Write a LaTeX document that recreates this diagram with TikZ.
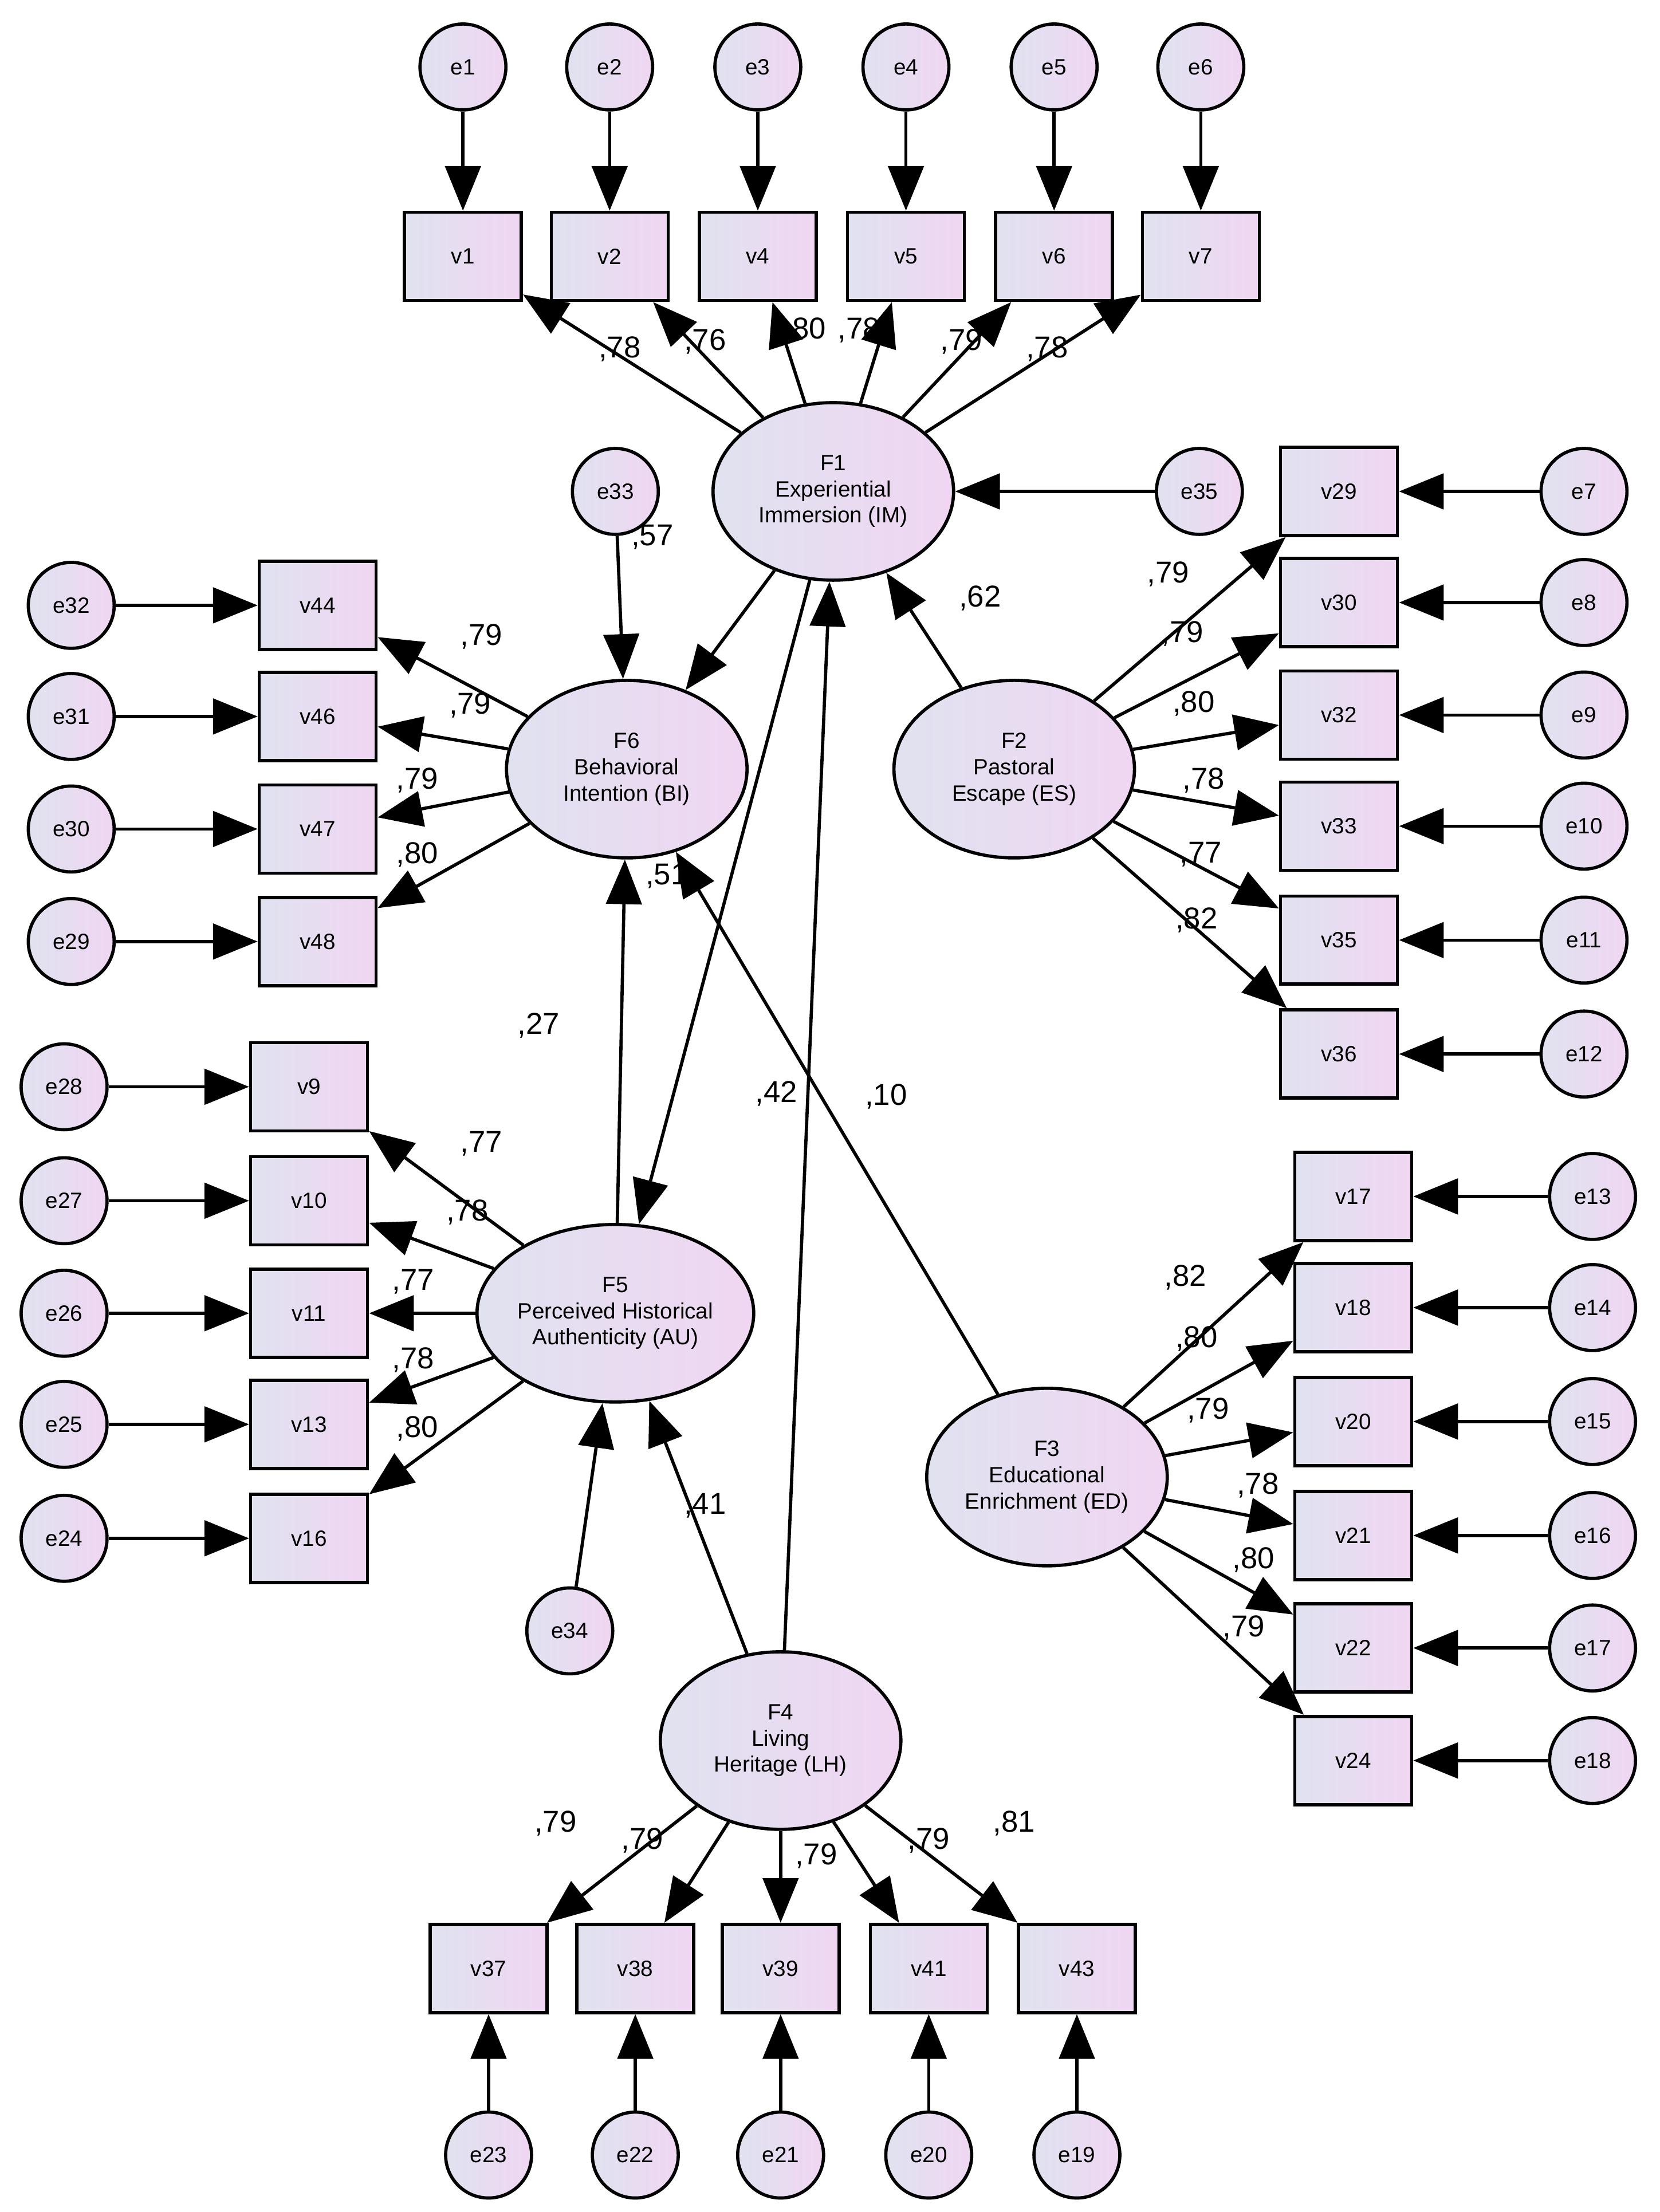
\documentclass[tikz,border=0pt]{standalone}
\usepackage{fontspec}
\setmainfont{Liberation Sans}
\usetikzlibrary{arrows.meta,shapes.geometric}
\definecolor{lblue}{RGB}{224,226,240}
\definecolor{lpink}{RGB}{240,214,242}

\begin{document}
\begin{tikzpicture}[
    x=0.02487cm, y=-0.02487cm,
    line width=1.6pt,
    >={Triangle[length=0.78cm,width=0.62cm]},
    err/.style={circle,draw,line width=1.6pt,minimum size=1.5cm,
        inner sep=0pt,left color=lblue,right color=lpink,font=\fontsize{11}{12}\selectfont},
    obs/.style={rectangle,draw,line width=1.6pt,minimum width=2.04cm,
        minimum height=1.54cm,left color=lblue,right color=lpink,
        font=\fontsize{11}{12}\selectfont},
    lat/.style={ellipse,draw,line width=1.6pt,minimum width=4.2cm,
        minimum height=3.1cm,inner sep=0pt,align=center,left color=lblue,
        right color=lpink,font=\fontsize{11}{13}\selectfont},
    lbl/.style={font=\fontsize{15}{16}\selectfont,inner sep=0pt},
    ]
    \useasboundingbox (0,0) rectangle (1165,1553);

    %latent factors
    \node[lat] (F1) at (585,345) {F1\\Experiential\\Immersion (IM)};
    \node[lat] (F2) at (712,540) {F2\\Pastoral\\Escape (ES)};
    \node[lat] (F3) at (735,1037) {F3\\Educational\\Enrichment (ED)};
    \node[lat] (F4) at (548,1222) {F4\\Living\\Heritage (LH)};
    \node[lat] (F5) at (432,922) {F5\\Perceived Historical\\Authenticity (AU)};
    \node[lat] (F6) at (440,540) {F6\\Behavioral\\Intention (BI)};

    %disturbances
    \node[err] (e33) at (432,345) {e33};
    \node[err] (e34) at (400,1145) {e34};
    \node[err] (e35) at (842,345) {e35};

    %F1 indicators (top)
    \foreach \v/\e/\x in {v1/e1/325,v2/e2/428,v4/e3/532,v5/e4/636,v6/e5/740,v7/e6/843}{
        \node[obs] (\v) at (\x,180) {\v};
        \node[err] (\e) at (\x,47) {\e};
        \draw[->] (\e) -- (\v);
        \draw[->] (F1) -- (\v);
    }

    %F6 indicators (left)
    \foreach \v/\e/\y in {v44/e32/425,v46/e31/503,v47/e30/582,v48/e29/661}{
        \node[obs] (\v) at (223,\y) {\v};
        \node[err] (\e) at (50,\y) {\e};
        \draw[->] (\e) -- (\v);
        \draw[->] (F6) -- (\v);
    }

    %F2 indicators (right)
    \foreach \v/\e/\y in {v29/e7/345,v30/e8/423,v32/e9/502,v33/e10/580,v35/e11/660,v36/e12/740}{
        \node[obs] (\v) at (940,\y) {\v};
        \node[err] (\e) at (1112,\y) {\e};
        \draw[->] (\e) -- (\v);
        \draw[->] (F2) -- (\v);
    }

    %F5 indicators (left)
    \foreach \v/\e/\y in {v9/e28/763,v10/e27/843,v11/e26/922,v13/e25/1000,v16/e24/1080}{
        \node[obs] (\v) at (217,\y) {\v};
        \node[err] (\e) at (45,\y) {\e};
        \draw[->] (\e) -- (\v);
        \draw[->] (F5) -- (\v);
    }

    %F3 indicators (right)
    \foreach \v/\e/\y in {v17/e13/840,v18/e14/918,v20/e15/998,v21/e16/1078,v22/e17/1157,v24/e18/1236}{
        \node[obs] (\v) at (950,\y) {\v};
        \node[err] (\e) at (1118,\y) {\e};
        \draw[->] (\e) -- (\v);
        \draw[->] (F3) -- (\v);
    }

    %F4 indicators (bottom)
    \foreach \v/\e/\x in {v37/e23/343,v38/e22/446,v39/e21/548,v41/e20/652,v43/e19/756}{
        \node[obs] (\v) at (\x,1382) {\v};
        \node[err] (\e) at (\x,1513) {\e};
        \draw[->] (\e) -- (\v);
        \draw[->] (F4) -- (\v);
    }

    %structural paths
    \draw[->] (e35) -- (F1);
    \draw[->] (e33) -- (F6);
    \draw[->] (e34) -- (F5);
    \draw[->] (F2) -- (F1);
    \draw[->] (F1) -- (F6);
    \draw[->] (F1) -- (F5);
    \draw[->] (F5) -- (F6);
    \draw[->] (F4) -- (F1);
    \draw[->] (F3) -- (F6);
    \draw[->] (F4) -- (F5);

    %loadings
    \foreach \t/\x/\y in {78/435/245,76/495/240,80/565/232,78/603/232,79/675/240,78/735/245,
        57/458/377,62/688/420,79/338/447,79/330/495,79/293/548,80/293/600,
        79/820/403,79/830/445,80/838/494,78/845/548,77/843/600,82/840/646,
        51/468/615,27/378/720,42/545/768,10/622/770,
        77/338/803,78/328/851,77/290/900,78/290/955,80/293/1003,41/495/1057,
        82/832/897,80/840/940,79/848/990,78/883/1043,80/880/1095,79/873/1143,
        79/390/1280,79/451/1292,79/573/1303,79/652/1292,81/712/1280}{
        \node[lbl] at (\x,\y) {,\t};
    }
\end{tikzpicture}
\end{document}
